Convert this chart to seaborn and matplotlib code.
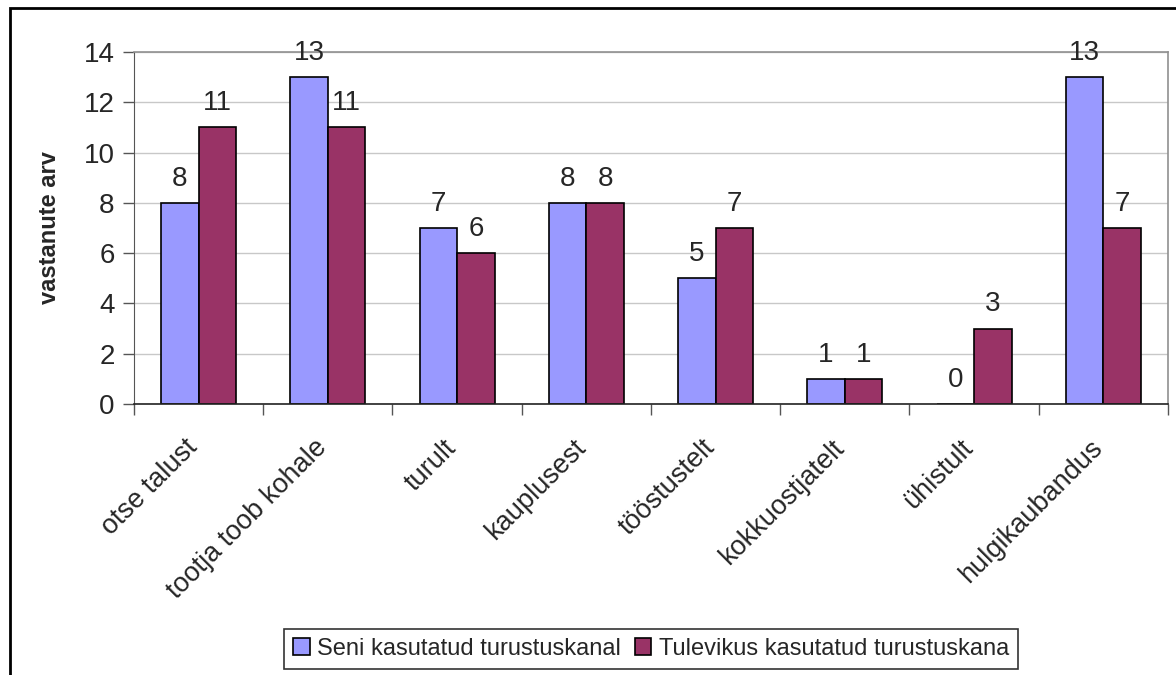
import numpy as np
import pandas as pd
import matplotlib
matplotlib.use("Agg")
import matplotlib.pyplot as plt
import matplotlib.patches as mpatches
import matplotlib.transforms as mtransforms
import seaborn as sns

# data
categories = ["otse talust", "tootja toob kohale", "turult", "kauplusest",
              "tööstustelt", "kokkuostjatelt", "ühistult", "hulgikaubandus"]
seni = [8, 13, 7, 8, 5, 1, 0, 13]
tulevikus = [11, 11, 6, 8, 7, 1, 3, 7]
series_names = ["Seni kasutatud turustuskanal", "Tulevikus kasutatud turustuskana"]
y_ticks = [0, 2, 4, 6, 8, 10, 12, 14]

df = pd.DataFrame({
    "kategooria": categories * 2,
    "arv": seni + tulevikus,
    "seeria": [series_names[0]] * len(categories) + [series_names[1]] * len(categories),
})

sns.set_style("white")
plt.rcParams["font.family"] = ["Liberation Sans", "DejaVu Sans"]

fig = plt.figure(figsize=(11.76, 6.75), dpi=100)
ax = fig.add_axes([0.1139, 0.4015, 0.8793, 0.5215])

palette = ["#9999FF", "#993366"]
sns.barplot(data=df, x="kategooria", y="arv", hue="seeria", order=categories,
            hue_order=series_names, palette=palette, width=0.58,
            edgecolor="black", linewidth=1.2, saturation=1, ax=ax, legend=False)

for cont in ax.containers:
    ax.bar_label(cont, fmt="%d", padding=8, fontsize=20)

ax.set_ylim(0, 14)
ax.set_xlim(-0.5, len(categories) - 0.5)
ax.set_yticks(y_ticks)
ax.yaxis.grid(True, color="#C8C8C8", linewidth=1)
ax.set_axisbelow(True)
ax.tick_params(axis="y", labelsize=20, length=8, color="#555555", width=1, pad=6, left=True)

# category labels at centres, tick marks at the group borders
ax.set_xticks(range(len(categories)))
ax.set_xticklabels(categories, rotation=45, ha="right", rotation_mode="anchor", fontsize=19.5)
ax.tick_params(axis="x", which="major", length=0, pad=20)
ax.set_xticks(np.arange(-0.5, len(categories)), minor=True)
ax.tick_params(axis="x", which="minor", length=8, color="#555555", width=1, bottom=True)
shift = mtransforms.ScaledTranslation(-14 / 100, -3 / 100, fig.dpi_scale_trans)
for lbl in ax.get_xticklabels():
    lbl.set_transform(lbl.get_transform() + shift)

ax.set_xlabel("")
ax.set_ylabel("vastanute arv", fontsize=17, fontweight="bold", labelpad=16)

for side in ["top", "right"]:
    ax.spines[side].set_color("#909090")
    ax.spines[side].set_linewidth(1.2)
ax.spines["left"].set_color("#555555")
ax.spines["bottom"].set_color("#222222")
ax.spines["bottom"].set_linewidth(1.2)

handles = [mpatches.Patch(facecolor=c, edgecolor="black", linewidth=1.2) for c in palette]
leg = fig.legend(handles, series_names, loc="center", bbox_to_anchor=(0.5536, 0.0385),
                 ncol=2, fontsize=17, frameon=True, fancybox=False, edgecolor="black",
                 handlelength=0.7, handleheight=0.7, handletextpad=0.3,
                 columnspacing=0.6, borderpad=0.4)
leg.get_frame().set_linewidth(1.2)

# outer chart border (only top and left sides fall inside the image)
border = mpatches.Rectangle((10 / 1176, -0.1), 1.2, 1 - 8 / 675 + 0.1,
                            transform=fig.transFigure, fill=False,
                            edgecolor="black", linewidth=2, clip_on=False)
fig.patches.append(border)

fig.savefig("out.png", dpi=100)
